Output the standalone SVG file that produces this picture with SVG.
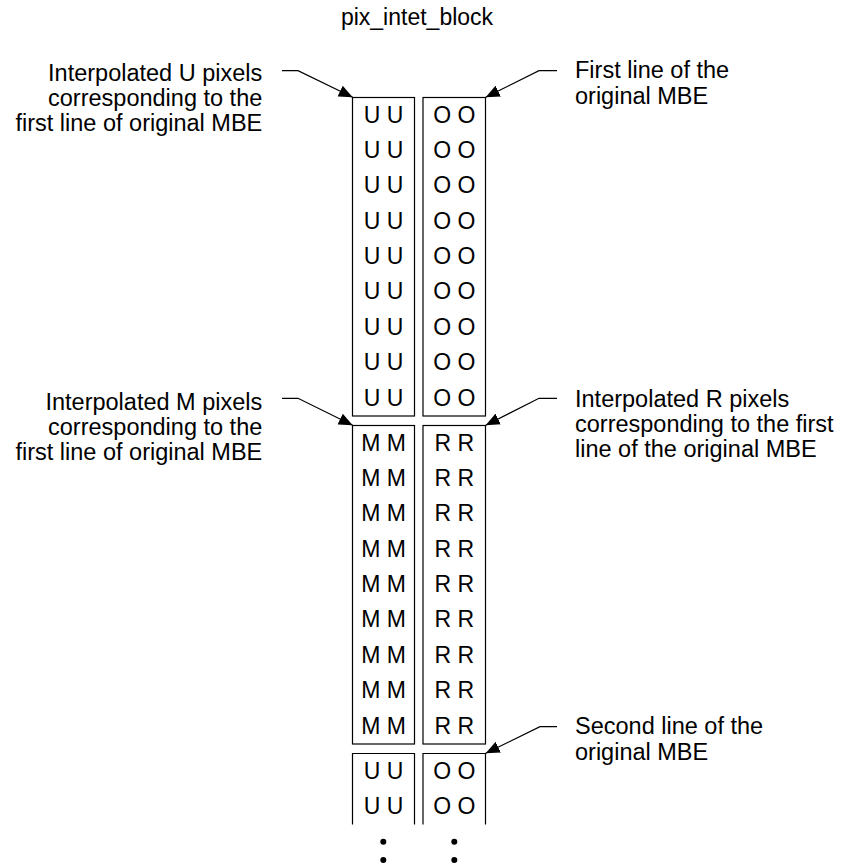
<svg xmlns="http://www.w3.org/2000/svg" width="855" height="866" viewBox="0 0 855 866">
<style>
text{font-family:"Liberation Sans",Arial,Helvetica,sans-serif;fill:#000}
.lbl{font-size:23.5px}
.cell{font-size:23px;text-anchor:middle}
.title{font-size:23px;text-anchor:middle}
.box{fill:none;stroke:#000;stroke-width:1.2}
.conn{fill:none;stroke:#000;stroke-width:1.2}
</style>
<defs>
<marker id="ah" markerWidth="14" markerHeight="12" refX="14" refY="6" orient="auto" markerUnits="userSpaceOnUse">
<path d="M0,0 L14,6 L0,12 Z" fill="#000"/>
</marker>
</defs>
<rect width="855" height="866" fill="#fff"/>
<text class="title" x="417" y="25">pix_intet_block</text>

<g id="block-u1">
<rect class="box" x="352.5" y="97.5" width="62" height="318.5"/>
<text class="cell" x="383.5" y="122.7">U U</text>
<text class="cell" x="383.5" y="158.05">U U</text>
<text class="cell" x="383.5" y="193.4">U U</text>
<text class="cell" x="383.5" y="228.75">U U</text>
<text class="cell" x="383.5" y="264.1">U U</text>
<text class="cell" x="383.5" y="299.45">U U</text>
<text class="cell" x="383.5" y="334.8">U U</text>
<text class="cell" x="383.5" y="370.15">U U</text>
<text class="cell" x="383.5" y="405.5">U U</text>
</g>
<g id="block-o1">
<rect class="box" x="423" y="97.5" width="62.5" height="318.5"/>
<text class="cell" x="454.3" y="122.7">O O</text>
<text class="cell" x="454.3" y="158.05">O O</text>
<text class="cell" x="454.3" y="193.4">O O</text>
<text class="cell" x="454.3" y="228.75">O O</text>
<text class="cell" x="454.3" y="264.1">O O</text>
<text class="cell" x="454.3" y="299.45">O O</text>
<text class="cell" x="454.3" y="334.8">O O</text>
<text class="cell" x="454.3" y="370.15">O O</text>
<text class="cell" x="454.3" y="405.5">O O</text>
</g>
<g id="block-m">
<rect class="box" x="352.5" y="425.5" width="62" height="318.5"/>
<text class="cell" x="383.5" y="450.7">M M</text>
<text class="cell" x="383.5" y="486.05">M M</text>
<text class="cell" x="383.5" y="521.4">M M</text>
<text class="cell" x="383.5" y="556.75">M M</text>
<text class="cell" x="383.5" y="592.1">M M</text>
<text class="cell" x="383.5" y="627.45">M M</text>
<text class="cell" x="383.5" y="662.8">M M</text>
<text class="cell" x="383.5" y="698.15">M M</text>
<text class="cell" x="383.5" y="733.5">M M</text>
</g>
<g id="block-r">
<rect class="box" x="423" y="425.5" width="62.5" height="318.5"/>
<text class="cell" x="454.3" y="450.7">R R</text>
<text class="cell" x="454.3" y="486.05">R R</text>
<text class="cell" x="454.3" y="521.4">R R</text>
<text class="cell" x="454.3" y="556.75">R R</text>
<text class="cell" x="454.3" y="592.1">R R</text>
<text class="cell" x="454.3" y="627.45">R R</text>
<text class="cell" x="454.3" y="662.8">R R</text>
<text class="cell" x="454.3" y="698.15">R R</text>
<text class="cell" x="454.3" y="733.5">R R</text>
</g>
<g id="block-u2">
<path class="box" d="M352.5,824.5 V753.5 H414.5 V824.5"/>
<text class="cell" x="383.5" y="779">U U</text>
<text class="cell" x="383.5" y="814.3">U U</text>
</g>
<g id="block-o2">
<path class="box" d="M423,824.5 V753.5 H485.5 V824.5"/>
<text class="cell" x="454.3" y="779">O O</text>
<text class="cell" x="454.3" y="814.3">O O</text>
</g>
<g id="ellipsis">
<circle cx="383.3" cy="841.7" r="3"/>
<circle cx="383.3" cy="860" r="3"/>
<circle cx="454.3" cy="841.7" r="3"/>
<circle cx="454.3" cy="860" r="3"/>
</g>

<g id="label-u">
<text class="lbl" text-anchor="end" x="262.3" y="80.7">Interpolated U pixels</text>
<text class="lbl" text-anchor="end" x="262.3" y="105.7">corresponding to the</text>
<text class="lbl" text-anchor="end" x="262.3" y="130.7">first line of original MBE</text>
</g>
<g id="label-o">
<text class="lbl" x="575" y="78.3">First line of the</text>
<text class="lbl" x="575" y="103.8">original MBE</text>
</g>
<g id="label-m">
<text class="lbl" text-anchor="end" x="262.3" y="410">Interpolated M pixels</text>
<text class="lbl" text-anchor="end" x="262.3" y="435">corresponding to the</text>
<text class="lbl" text-anchor="end" x="262.3" y="460">first line of original MBE</text>
</g>
<g id="label-r">
<text class="lbl" x="575" y="407.3">Interpolated R pixels</text>
<text class="lbl" x="575" y="432.3">corresponding to the first</text>
<text class="lbl" x="575" y="457.3">line of the original MBE</text>
</g>
<g id="label-second">
<text class="lbl" x="575" y="734.3">Second line of the</text>
<text class="lbl" x="575" y="759.8">original MBE</text>
</g>

<g id="connectors">
<path class="conn" d="M282,70.7 H298 L352.7,97.3" marker-end="url(#ah)"/>
<path class="conn" d="M557,70.7 H539 L485.7,97.3" marker-end="url(#ah)"/>
<path class="conn" d="M282,398.3 H298 L352.7,425.3" marker-end="url(#ah)"/>
<path class="conn" d="M557,398.3 H539 L485.7,425.3" marker-end="url(#ah)"/>
<path class="conn" d="M557,726.7 H540 L485.7,753.3" marker-end="url(#ah)"/>
</g>
</svg>
